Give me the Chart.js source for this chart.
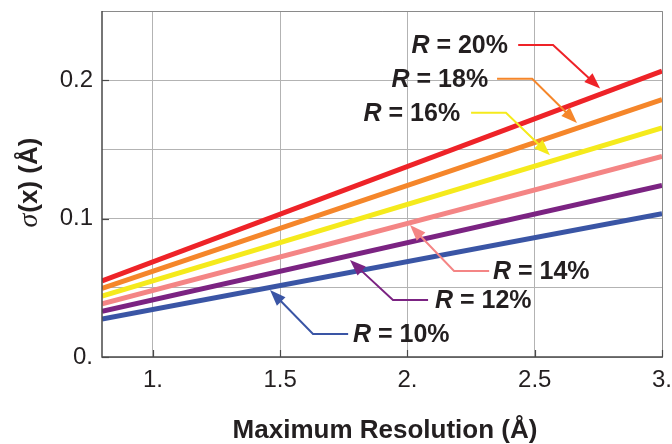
<!DOCTYPE html>
<html><head><meta charset="utf-8">
<script src="https://cdn.jsdelivr.net/npm/chart.js@4/dist/chart.umd.min.js"></script>
<style>html,body{margin:0;padding:0;background:#fff}#wrap{width:672px;height:444px}</style>
</head><body><div id="wrap"><canvas id="c" width="672" height="444"></canvas></div>
<script>
// ---- data ----
const resolution = [0.8, 3.0];
const sigmaR20 = [0.055, 0.2065];
const sigmaR18 = [0.0495, 0.186];
const sigmaR16 = [0.044, 0.1655];
const sigmaR14 = [0.0385, 0.145];
const sigmaR12 = [0.033, 0.124];
const sigmaR10 = [0.0275, 0.1035];
const seriesPercent = ['20%', '18%', '16%', '14%', '12%', '10%'];
const xTickValues = [1, 1.5, 2, 2.5, 3];
const xTickLabels = ['1.', '1.5', '2.', '2.5', '3.'];
const yTickValues = [0, 0.05, 0.1, 0.15, 0.2, 0.25];
const yTickLabels = ['0.', '', '0.1', '', '0.2', ''];
const xTitle = 'Maximum Resolution (Å)';

// ---- styling ----
const seriesColors = ['#ee2328', '#f5862a', '#f5ea1c', '#f48585', '#7b2382', '#3a55a5'];
const seriesValues = [sigmaR20, sigmaR18, sigmaR16, sigmaR14, sigmaR12, sigmaR10];
const TEXT = '#231f20';

// annotation layout (data coordinates): label anchor, alignment, leader path ending at arrow tip
const annotations = [
  {s:0, align:'right', at:[2.395, 0.2255], path:[[2.435,0.2255],[2.572,0.2255],[2.757,0.194]]},
  {s:1, align:'right', at:[2.317, 0.2010], path:[[2.352,0.2010],[2.490,0.2010],[2.666,0.169]]},
  {s:2, align:'right', at:[2.207, 0.1765], path:[[2.250,0.1765],[2.387,0.1765],[2.560,0.1458]]},
  {s:3, align:'left',  at:[2.336, 0.0621], path:[[2.321,0.0621],[2.183,0.0621],[2.010,0.0953]]},
  {s:4, align:'left',  at:[2.108, 0.0412], path:[[2.081,0.0412],[1.943,0.0412],[1.774,0.0700]]},
  {s:5, align:'left',  at:[1.786, 0.0166], path:[[1.767,0.0166],[1.629,0.0166],[1.460,0.0484]]}
];

const datasets = seriesValues.map((vals, i) => ({
  label: 'R = ' + seriesPercent[i],
  data: resolution.map((x, j) => ({x: x, y: vals[j]})),
  borderColor: seriesColors[i],
  backgroundColor: seriesColors[i],
  borderWidth: 5,
  pointRadius: 0,
  tension: 0,
  showLine: true,
  borderCapStyle: 'butt'
}));

const decor = {
  id: 'decor',
  afterDatasetsDraw(chart) {
    const ctx = chart.ctx, a = chart.chartArea;
    const xs = chart.scales.x, ys = chart.scales.y;
    ctx.save();
    // frame
    ctx.strokeStyle = '#8a8a8a'; ctx.lineWidth = 1;
    ctx.beginPath();
    ctx.moveTo(a.left, a.top + 0.5); ctx.lineTo(a.right + 0.5, a.top + 0.5); ctx.lineTo(a.right + 0.5, a.bottom);
    ctx.stroke();
    ctx.strokeStyle = '#4a4a4a'; ctx.lineWidth = 1.5;
    ctx.beginPath();
    ctx.moveTo(a.left, a.top); ctx.lineTo(a.left, a.bottom); ctx.lineTo(a.right + 1, a.bottom);
    ctx.stroke();
    // inward tick marks at labelled positions
    ctx.lineWidth = 1.2; ctx.strokeStyle = '#4a4a4a';
    xTickValues.forEach((v) => {
      const px = Math.round(xs.getPixelForValue(v)) + 0.5;
      ctx.beginPath(); ctx.moveTo(px, a.bottom); ctx.lineTo(px, a.bottom - 7); ctx.stroke();
    });
    yTickValues.forEach((v, i) => {
      if (!yTickLabels[i]) return;
      const py = Math.round(ys.getPixelForValue(v)) + 0.5;
      ctx.beginPath(); ctx.moveTo(a.left, py); ctx.lineTo(a.left + 7, py); ctx.stroke();
    });
    // annotations
    annotations.forEach((an) => {
      const col = seriesColors[an.s];
      const pts = an.path.map(p => [xs.getPixelForValue(p[0]), ys.getPixelForValue(p[1])]);
      const tip = pts[pts.length - 1], prev = pts[pts.length - 2];
      const dx = tip[0] - prev[0], dy = tip[1] - prev[1];
      const len = Math.hypot(dx, dy), ux = dx / len, uy = dy / len;
      const headL = 16, headW = 6;
      const base = [tip[0] - ux * headL, tip[1] - uy * headL];
      ctx.strokeStyle = col; ctx.fillStyle = col; ctx.lineWidth = 2; ctx.lineJoin = 'miter';
      ctx.beginPath();
      ctx.moveTo(pts[0][0], pts[0][1]);
      for (let k = 1; k < pts.length - 1; k++) ctx.lineTo(pts[k][0], pts[k][1]);
      ctx.lineTo(base[0] + ux * 2, base[1] + uy * 2);
      ctx.stroke();
      ctx.beginPath();
      ctx.moveTo(tip[0], tip[1]);
      ctx.lineTo(base[0] - uy * headW, base[1] + ux * headW);
      ctx.lineTo(base[0] + uy * headW, base[1] - ux * headW);
      ctx.closePath(); ctx.fill();
      // label
      const ax = xs.getPixelForValue(an.at[0]), ay = ys.getPixelForValue(an.at[1]);
      const fR = 'italic bold 25px "Liberation Sans", Arial, sans-serif';
      const fT = 'bold 25px "Liberation Sans", Arial, sans-serif';
      const rest = ' = ' + seriesPercent[an.s];
      ctx.font = fR; const wR = ctx.measureText('R').width;
      ctx.font = fT; const wT = ctx.measureText(rest).width;
      const x0 = an.align === 'right' ? ax - wR - wT : ax;
      ctx.fillStyle = TEXT; ctx.textBaseline = 'middle'; ctx.textAlign = 'left';
      ctx.font = fR; ctx.fillText('R', x0, ay + 1);
      ctx.font = fT; ctx.fillText(rest, x0 + wR, ay + 1);
    });
    // x title
    ctx.fillStyle = TEXT; ctx.textAlign = 'center'; ctx.textBaseline = 'middle';
    ctx.font = 'bold 26px "Liberation Sans", Arial, sans-serif';
    ctx.fillText(xTitle, 385, 431);
    // y title (rotated)
    ctx.translate(30, 183);
    ctx.rotate(-Math.PI / 2);
    const p1 = 'σ', p2 = '(x) (Å)';
    const f1 = 'italic 28px "Liberation Serif", "DejaVu Serif", serif';
    const f2 = 'bold 26px "Liberation Sans", Arial, sans-serif';
    ctx.font = f1; const w1 = ctx.measureText(p1).width;
    ctx.font = f2; const w2 = ctx.measureText(p2).width;
    ctx.textAlign = 'left';
    const sx = -(w1 + w2) / 2;
    ctx.font = f1; ctx.fillText(p1, sx, 0);
    ctx.font = f2; ctx.fillText(p2, sx + w1 + 1, 0);
    ctx.restore();
  }
};

new Chart(document.getElementById('c'), {
  type: 'scatter',
  data: { datasets: datasets },
  options: {
    responsive: false,
    animation: false,
    devicePixelRatio: 1,
    layout: { padding: { top: 11, right: 10, left: 0, bottom: 0 } },
    plugins: { legend: { display: false }, tooltip: { enabled: false } },
    scales: {
      x: {
        type: 'linear', min: 0.8, max: 3.0,
        afterBuildTicks: (s) => { s.ticks = xTickValues.map(v => ({value: v})); },
        afterFit: (s) => { s.height = 87; s.paddingLeft = 0; s.paddingRight = 0; },
        ticks: {
          callback: (v) => xTickLabels[xTickValues.indexOf(v)],
          color: TEXT, font: { family: '"Liberation Sans", Arial, sans-serif', size: 24 },
          padding: 9, maxRotation: 0, autoSkip: false
        },
        grid: { color: '#b3b3b3', lineWidth: 1, drawTicks: false },
        border: { display: false }
      },
      y: {
        type: 'linear', min: 0, max: 0.25,
        afterBuildTicks: (s) => { s.ticks = yTickValues.map(v => ({value: v})); },
        afterFit: (s) => { s.width = 102; s.paddingTop = 0; s.paddingBottom = 0; },
        ticks: {
          callback: (v) => yTickLabels[yTickValues.indexOf(v)],
          color: TEXT, font: { family: '"Liberation Sans", Arial, sans-serif', size: 24 },
          padding: 9, autoSkip: false
        },
        grid: { color: '#b3b3b3', lineWidth: 1, drawTicks: false },
        border: { display: false }
      }
    }
  },
  plugins: [decor]
});
</script>
</body></html>
